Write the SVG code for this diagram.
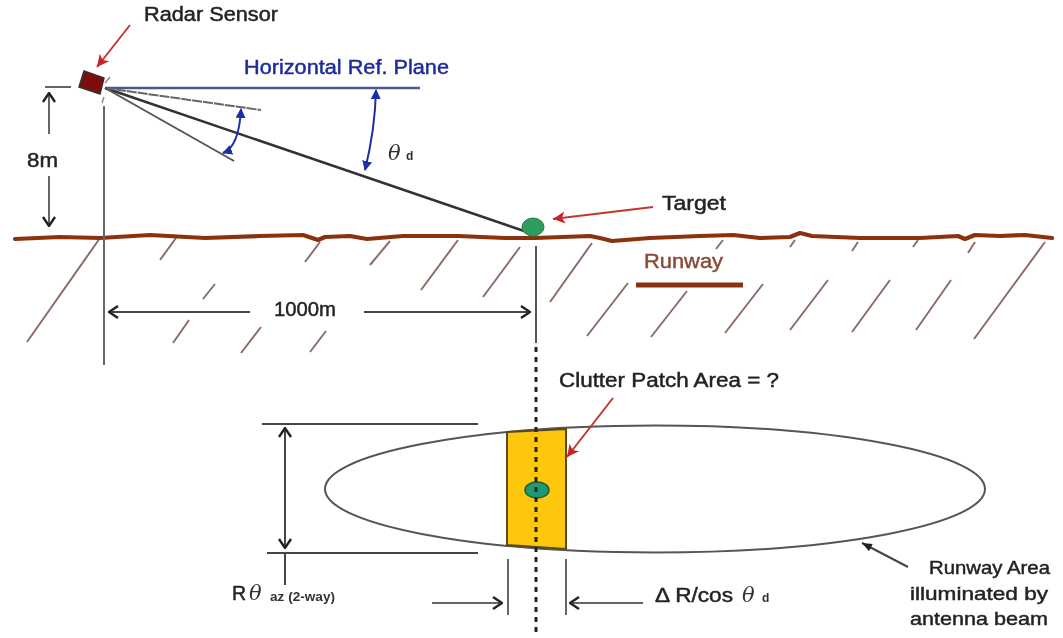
<svg xmlns="http://www.w3.org/2000/svg" width="1063" height="638" viewBox="0 0 1063 638">
<style>
text{font-family:"Liberation Sans",Arial,sans-serif;fill:#222;stroke:#222;stroke-width:.45}
.th{font-family:"DejaVu Serif","Liberation Serif",serif;font-style:italic;font-size:21px;stroke-width:0;fill:#333}
.sub{font-weight:bold;font-size:12px;stroke-width:0;fill:#333}
.hatch{stroke:#8d6e66;stroke-width:2;fill:none}
.dim{stroke:#444;stroke-width:2;fill:none}
.dimg{stroke:#666;stroke-width:2;fill:none}
.red{stroke:#c0392f;stroke-width:2;fill:none}
.blue{stroke:#1c2fa8;stroke-width:2;fill:none}
</style>
<defs>
<marker id="open" viewBox="0 0 12 14" refX="11" refY="7" markerWidth="12" markerHeight="14" markerUnits="userSpaceOnUse" orient="auto-start-reverse"><path d="M2 1L11 7L2 13" fill="none" stroke="#222" stroke-width="2.4"/></marker>
<marker id="redh" viewBox="0 0 14 14" refX="13" refY="7" markerWidth="14" markerHeight="14" markerUnits="userSpaceOnUse" orient="auto"><path d="M1 1L13 7L1 13L4 7Z" fill="#c8202a"/></marker>
<marker id="blueh" viewBox="0 0 10 10" refX="9" refY="5" markerWidth="10" markerHeight="10" markerUnits="userSpaceOnUse" orient="auto-start-reverse"><path d="M0 0L10 5L0 10Z" fill="#1c2fa8"/></marker>
<marker id="blk" viewBox="0 0 12 10" refX="11" refY="5" markerWidth="12" markerHeight="10" markerUnits="userSpaceOnUse" orient="auto"><path d="M1 1L11 5L1 9Z" fill="#222"/></marker>
<filter id="soft" x="-2%" y="-2%" width="104%" height="104%"><feGaussianBlur stdDeviation="0.45"/></filter>
</defs>
<rect width="1063" height="638" fill="#fff"/>
<g filter="url(#soft)">
<g id="hatching">
<path class="hatch" d="M100 238L27 342M176 238L160 260M320 242L305 262M390 241L370 265M458 240L421 290M215 284L203 299M189 320L173 343M261 327L241 353M326 331L310 352M520 247L483 297M592 243L550 302M628 283L587 336M687 291L651 337M763 284L725 333M723 240L716 249M795 240L790 247M858 242L852 251M918 240L913 247M975 242L968 253M1045 242L974 339M828 280L790 330M890 280L852 332M951 280L916 330"/>
</g>
<g id="ground">
<path d="M15 239L60 237L100 238L150 235L205 238L260 236L303 235L318 240L325 237L350 236L367 239L403 236L458 236L505 238L535 238L590 236L600 238L612 241L650 238L700 236L733 235L760 238L790 237L800 233L812 236L860 238L920 238L958 236L965 239L975 235L1000 236L1025 235L1052 238" fill="none" stroke="#8a3310" stroke-width="4.2" stroke-linecap="round" stroke-linejoin="round"/>
</g>
<g id="runway-bar"><path d="M636 285H743" stroke="#8a3310" stroke-width="5"/></g>
<g id="runway-area">
<ellipse cx="655" cy="489" rx="330" ry="63.5" fill="#fff" stroke="#555" stroke-width="2"/>
</g>
<g id="clutter-patch">
<path d="M507 432L566 429V549L507 545Z" fill="#fcc70a" stroke="#5a4a20" stroke-width="2"/>
<ellipse cx="537" cy="490" rx="12" ry="8" fill="#1f9a78" stroke="#2b5a30" stroke-width="1.5"/>
</g>
<g id="connectors">
<path class="dimg" d="M104 106V365"/>
<path d="M536 246V343" stroke="#555" stroke-width="2"/>
<path d="M536 347V632" stroke="#222" stroke-width="3" stroke-dasharray="5 5" fill="none"/>
<path d="M105 88H420" stroke="#4a5a8c" stroke-width="2.5"/>
<path d="M105 88L527 232" stroke="#333" stroke-width="2.5"/>
<path d="M105 88L261 110" stroke="#666" stroke-width="2" stroke-dasharray="10 1"/>
<path d="M105 88L234 161" stroke="#555" stroke-width="2"/>
<path class="dimg" d="M45 87H71M566 559V615M508 559V615"/>
<path class="dimg" d="M49 134V93" marker-end="url(#open)"/>
<path class="dimg" d="M49 176V226" marker-end="url(#open)"/>
<path class="dim" d="M250 312H109" marker-end="url(#open)"/>
<path class="dim" d="M364 312H530" marker-end="url(#open)"/>
<path class="dim" d="M262 424H478M267 553H478M285 553V585"/>
<path class="dim" d="M285 488V428" marker-end="url(#open)"/>
<path class="dim" d="M285 488V548" marker-end="url(#open)"/>
<path class="dimg" d="M432 603H502" marker-end="url(#open)"/>
<path class="dimg" d="M643 603H570" marker-end="url(#open)"/>
<path class="red" d="M130 25L97 67" marker-end="url(#redh)"/>
<path class="red" d="M653 207L553 219" marker-end="url(#redh)"/>
<path class="red" d="M613 398L567 457" marker-end="url(#redh)"/>
<path class="dim" d="M908 567L862 543" marker-end="url(#blk)"/>
<path class="blue" d="M365 170Q375 130 376 90" marker-start="url(#blueh)" marker-end="url(#blueh)"/>
<path class="blue" d="M223 153Q239 147 241 109" marker-start="url(#blueh)" marker-end="url(#blueh)"/>
</g>
<g id="target"><ellipse cx="533" cy="227" rx="11" ry="9" fill="#2e9e5e" stroke="#2a7a40"/></g>
<g id="radar-sensor">
<path d="M84 71L104 78L100 94L79 87Z" fill="#7c0d0d" stroke="#333" stroke-width="1.5"/>
<path d="M110 77L105 83M104 97L102 103" stroke="#b08070" stroke-width="1.5"/>
<text x="144" y="21" font-size="19.5" textLength="134" lengthAdjust="spacingAndGlyphs">Radar Sensor</text>
</g>
<g id="labels">
<text x="244" y="74" font-size="19.5" textLength="205" lengthAdjust="spacingAndGlyphs" style="fill:#1f2a9c;stroke:#1f2a9c">Horizontal Ref. Plane</text>
<text x="27" y="167" font-size="19.5" textLength="31" lengthAdjust="spacingAndGlyphs">8m</text>
<text class="th" x="388" y="160">θ</text><text class="sub" x="406" y="160">d</text>
<text x="662" y="210" font-size="19.5" textLength="64" lengthAdjust="spacingAndGlyphs">Target</text>
<text x="644" y="268" font-size="19.5" textLength="79" lengthAdjust="spacingAndGlyphs" style="fill:#8a4a3a;stroke:#8a4a3a">Runway</text>
<text x="274" y="316" font-size="19.5" textLength="62" lengthAdjust="spacingAndGlyphs">1000m</text>
<text x="559" y="387" font-size="19.5" textLength="220" lengthAdjust="spacingAndGlyphs">Clutter Patch Area = ?</text>
<text x="232" y="600" font-size="19.5">R</text><text class="th" x="249" y="600">θ</text><text class="sub" x="270" y="601" textLength="65" lengthAdjust="spacingAndGlyphs">az (2-way)</text>
<text x="655" y="602" font-size="19.5" textLength="78" lengthAdjust="spacingAndGlyphs">Δ R/cos</text><text class="th" x="742" y="602">θ</text><text class="sub" x="762" y="602">d</text>
<text x="929" y="574" font-size="18.5" textLength="121" lengthAdjust="spacingAndGlyphs">Runway Area</text>
<text x="910" y="600" font-size="18.5" textLength="138" lengthAdjust="spacingAndGlyphs">illuminated by</text>
<text x="910" y="625" font-size="18.5" textLength="138" lengthAdjust="spacingAndGlyphs">antenna beam</text>
</g>
</g>
</svg>
